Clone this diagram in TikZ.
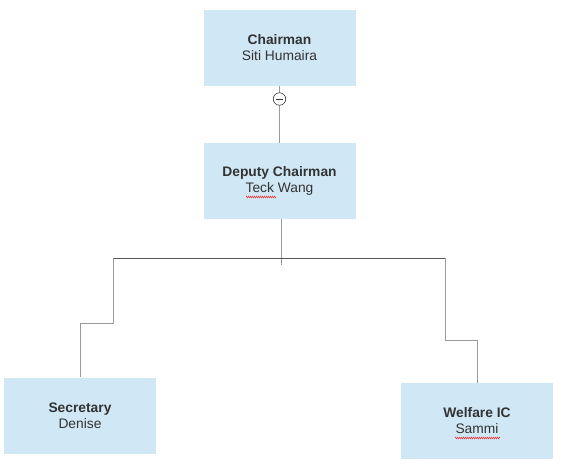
\documentclass[tikz,border=0pt]{standalone}
\usepackage{fontspec}
\setmainfont{Liberation Sans}
\usetikzlibrary{decorations.pathmorphing}
\definecolor{boxblue}{HTML}{D0E7F5}
\definecolor{txtgray}{HTML}{333333}
\definecolor{busgray}{HTML}{555555}
\definecolor{linkgray}{HTML}{9A9A9A}

\begin{document}
\begin{tikzpicture}[x=1pt,y=-1pt,
  role/.style={fill=boxblue,minimum width=152pt,minimum height=76pt,align=center,
    text=txtgray,font=\fontsize{13.8}{16}\selectfont,inner sep=0pt},
  link/.style={draw=linkgray,line width=0.9pt},
  bus/.style={draw=busgray,line width=0.8pt},
  spell/.style={draw=red!80,line width=0.5pt,decorate,
    decoration={zigzag,amplitude=0.8pt,segment length=2pt}}]
\useasboundingbox (0,0) rectangle (563,471);

\node[role] (chair) at (279.5,48)  {\textbf{Chairman}\\Siti Humaira};
\node[role] (dep)   at (279.5,181) {\textbf{Deputy Chairman}\\Teck Wang};
\node[role] (sec)   at (80,415.5)  {\textbf{Secretary}\\Denise};
\node[role] (wel)   at (477,421)   {\textbf{Welfare IC}\\Sammi};

% collapse marker
\node[draw=txtgray,fill=white,circle,minimum size=12.5pt,inner sep=0pt,line width=0.6pt] (minus) at (279.5,99) {};
\draw[txtgray,line width=0.8pt] ([xshift=-3.5pt]minus.center) -- ([xshift=3.5pt]minus.center);

\draw[link] (chair.south) -- (minus);
\draw[link] (minus) -- (dep.north);

\coordinate (busL) at (113,258);
\coordinate (busR) at (445,258);
\coordinate (stem) at (281,265);

\draw[link] ([xshift=1.5pt]dep.south) -- (stem);
\draw[bus] (busL) -- (busR);
\draw[link] (busL) |- (80,323) -- (sec.north);
\draw[link] (busR) |- (477,340) -- (wel.north);

% spell check marks
\draw[spell] (246,197) -- (276,197);
\draw[spell] (455,438) -- (500,438);
\end{tikzpicture}
\end{document}
